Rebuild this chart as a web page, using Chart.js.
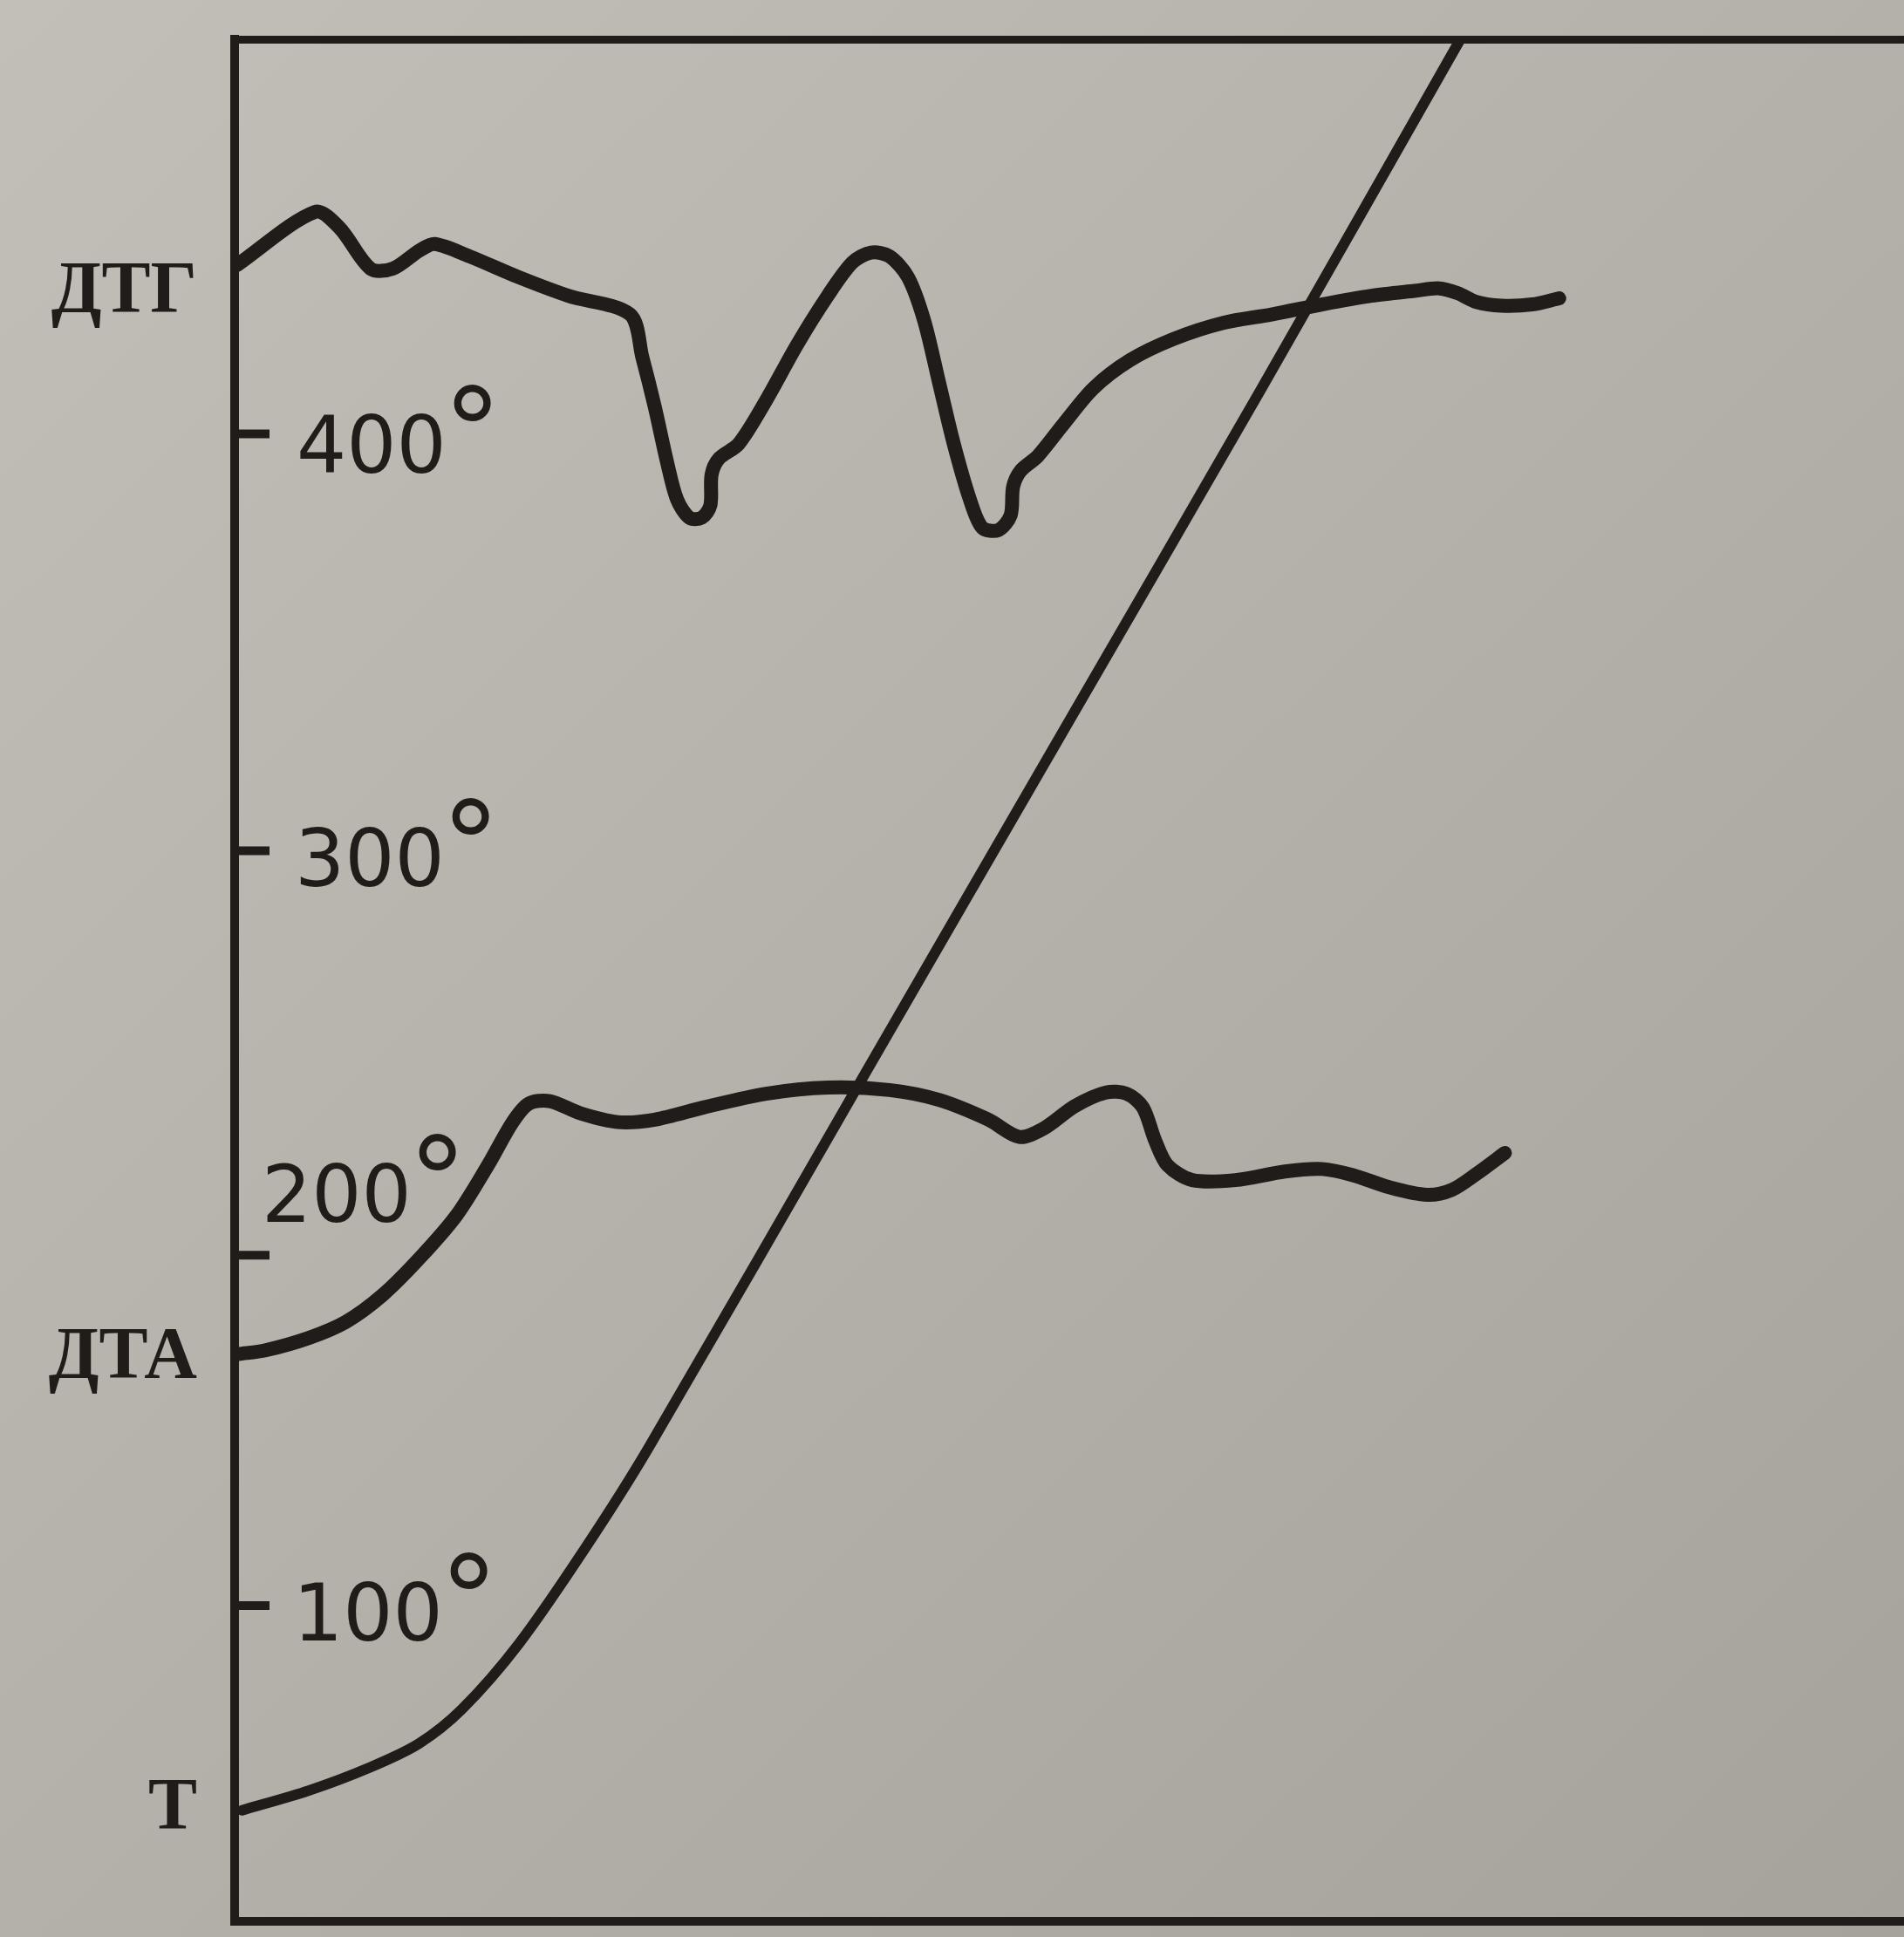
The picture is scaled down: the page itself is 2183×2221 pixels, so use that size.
<!DOCTYPE html>
<html>
<head>
<meta charset="utf-8">
<script src="https://cdn.jsdelivr.net/npm/chart.js@4.4.1/dist/chart.umd.min.js"></script>
<style>
  html, body { margin: 0; padding: 0; }
  #wrap { width: 2183px; height: 2221px; position: relative; }
</style>
</head>
<body>
<div id="wrap"><canvas id="thermo"></canvas></div>
<script>
// кривые термограммы (x - время, y - деления диаграммы)
const dtgX = [0.2, 6.5, 8.5, 11.0, 12.8, 15.0, 16.2, 19.0, 23.0, 27.0, 32.0, 33.0, 34.0, 35.0, 35.8, 36.8, 37.8, 38.5, 38.6, 39.2, 40.8,
  43.0, 45.5, 48.0, 50.0, 51.5, 53.0, 54.5, 55.8, 57.0, 58.2, 59.5, 60.5, 61.8, 62.8, 63.0, 63.6, 65.0, 67.0, 69.5, 72.5,
  76.0, 80.0, 84.0, 88.0, 92.0, 95.5, 97.5, 99.0, 100.5, 102.5, 105.0, 107.2];
const dtgY = [134.3, 138.6, 137.3, 134.0, 134.0, 135.5, 136.0, 135.0, 133.3, 131.8, 130.3, 126.8, 122.8, 118.3, 115.3, 113.8, 113.8, 114.8, 117.3, 118.6, 119.8,
  123.3, 127.8, 131.8, 134.5, 135.3, 135.0, 133.3, 129.8, 124.8, 119.8, 115.3, 113.0, 112.8, 114.0, 116.3, 117.6, 118.8, 121.3, 124.3, 126.6,
  128.3, 129.6, 130.3, 131.1, 131.8, 132.2, 132.4, 132.0, 131.3, 131.0, 131.1, 131.6];

const dtaX = [0.3, 2.5, 6.0, 9.0, 12.0, 15.0, 18.0, 20.5, 22.5, 23.8, 25.5, 28.0, 31.0, 34.0, 38.0, 43.0, 48.0, 53.0, 57.0, 61.0,
  63.5, 65.5, 68.0, 70.5, 72.2, 73.5, 74.5, 75.5, 77.5, 81.0, 85.0, 88.0, 90.5, 93.5, 96.5, 98.5, 100.5, 102.8];
const dtaY = [46.0, 46.3, 47.3, 48.6, 50.8, 53.8, 57.3, 61.3, 64.8, 66.3, 66.5, 65.5, 64.8, 65.0, 66.0, 67.1, 67.6, 67.4, 66.6, 65.0,
  63.6, 64.3, 66.1, 67.2, 67.1, 66.0, 63.3, 61.3, 60.1, 60.1, 60.8, 61.0, 60.5, 59.5, 58.9, 59.3, 60.6, 62.3];

const tX = [0.6, 6.0, 11.0, 14.9, 18.4, 23.0, 28.4, 33.5, 51.0, 67.0, 83.0, 99.2];
const tY = [9.0, 10.6, 12.5, 14.4, 17.2, 22.5, 30.3, 38.4, 68.7, 96.4, 124.1, 152.6];

// подписи кривых слева от оси
const curveNames = ['T', 'ДТА', 'ДТГ'];
const curveNameAt = [9.0, 45.6, 132.0];

// шкала температуры на оси
const degTicks = [25.6, 54.0, 86.8, 120.6];
const degLabels = ['100°', '200°', '300°', '400°'];

const ink = '#201c19';

function pts(xs, ys) {
  return xs.map((x, i) => ({ x: x, y: ys[i] }));
}

// фон как у фотографии страницы
const paper = {
  id: 'paper',
  beforeDraw(chart) {
    const c = chart.ctx;
    const g = c.createLinearGradient(0, 0, chart.width, chart.height);
    g.addColorStop(0, '#c2bfb9');
    g.addColorStop(1, '#a6a39d');
    c.save();
    c.fillStyle = g;
    c.fillRect(0, 0, chart.width, chart.height);
    c.restore();
  }
};

// засечки и подписи градусов внутри поля
const degScale = {
  id: 'degScale',
  afterDatasetsDraw(chart, args, opts) {
    const c = chart.ctx;
    const y = chart.scales.y;
    const left = chart.chartArea.left;
    c.save();
    c.fillStyle = ink;
    c.strokeStyle = ink;
    c.lineWidth = 10;
    degTicks.forEach((v, i) => {
      const py = y.getPixelForValue(v);
      c.beginPath();
      c.moveTo(left, py);
      c.lineTo(left + 40, py);
      c.stroke();

      const txt = degLabels[i];
      const num = txt.slice(0, -1);
      const deg = txt.slice(-1);
      const [dx, dy] = opts.shift[i];
      c.font = '90px "DejaVu Sans"';
      c.textAlign = 'left';
      c.textBaseline = 'alphabetic';
      const m = c.measureText(num);
      const h = m.actualBoundingBoxAscent;
      const base = py + dy + h / 2;
      c.fillText(num, left + dx, base);

      // знак градуса приподнят над цифрами
      c.font = '100px "DejaVu Sans"';
      const d100 = c.measureText(deg);
      const dh = d100.actualBoundingBoxAscent + d100.actualBoundingBoxDescent;
      const size = 100 * 42 / dh;
      c.font = size + 'px "DejaVu Sans"';
      const dm = c.measureText(deg);
      const top = base - h - 33;
      c.fillText(deg, left + dx + m.width + 8 + dm.actualBoundingBoxLeft, top + dm.actualBoundingBoxAscent);
    });
    c.restore();
  }
};

const lineStyle = {
  borderColor: ink,
  pointRadius: 0,
  tension: 0.3,
  borderCapStyle: 'round',
  borderJoinStyle: 'round',
  fill: false
};

new Chart(document.getElementById('thermo'), {
  type: 'line',
  data: {
    datasets: [
      Object.assign({ label: 'ДТГ', data: pts(dtgX, dtgY), borderWidth: 16 }, lineStyle),
      Object.assign({ label: 'ДТА', data: pts(dtaX, dtaY), borderWidth: 16 }, lineStyle),
      Object.assign({ label: 'T', data: pts(tX, tY), borderWidth: 12 }, lineStyle)
    ]
  },
  options: {
    responsive: true,
    maintainAspectRatio: false,
    animation: false,
    layout: { padding: 0 },
    plugins: {
      legend: { display: false },
      tooltip: { enabled: false },
      degScale: { shift: [[67, 6], [31, -72], [69, 6], [71, 10]] }
    },
    scales: {
      x: {
        type: 'linear',
        min: 0,
        max: 135.1,
        grid: { display: false, drawTicks: false },
        border: { display: true, color: ink, width: 10 },
        ticks: { display: false },
        afterFit: s => { s.height = 18; }
      },
      xTop: {
        type: 'linear',
        position: 'top',
        min: 0,
        max: 135.1,
        grid: { display: false, drawTicks: false },
        border: { display: true, color: ink, width: 9 },
        ticks: { display: false },
        afterFit: s => { s.height = 45; }
      },
      y: {
        type: 'linear',
        min: 0,
        max: 152.6,
        grid: { display: false, drawTicks: false },
        border: { display: true, color: ink, width: 10 },
        afterBuildTicks: s => { s.ticks = curveNameAt.map(v => ({ value: v })); },
        afterFit: s => { s.width = 269; s.paddingTop = 0; s.paddingBottom = 0; },
        ticks: {
          padding: 43,
          color: ink,
          font: { family: '"Liberation Serif"', size: 84, weight: 'bold' },
          callback: (v, i) => curveNames[i]
        }
      }
    }
  },
  plugins: [paper, degScale]
});
</script>
</body>
</html>
